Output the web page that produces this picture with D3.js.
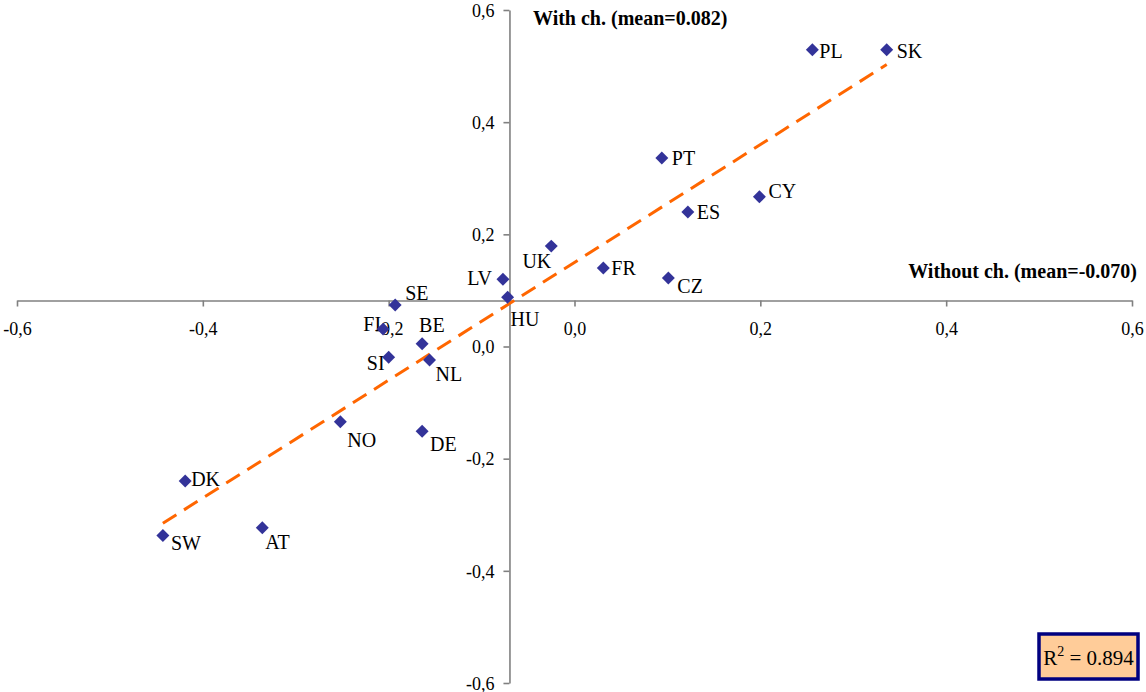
<!DOCTYPE html>
<html>
<head>
<meta charset="utf-8">
<script src="https://cdn.jsdelivr.net/npm/d3@7"></script>
<style>
  html, body { margin: 0; padding: 0; background: #fff; }
  svg { display: block; font-family: "Liberation Serif", "Times New Roman", serif; }
</style>
</head>
<body>
<svg id="chart" width="1146" height="692"></svg>
<script>
// ---- data ----
const countries = ["PL","SK","PT","CY","ES","UK","FR","CZ","LV","HU","SE","FI","BE","SI","NL","NO","DE","DK","AT","SW"];
const withoutCh = [0.256,0.336,0.094,0.199,0.122,-0.025,0.031,0.101,-0.077,-0.072,-0.193,-0.206,-0.164,-0.200,-0.156,-0.252,-0.164,-0.419,-0.336,-0.443];
const withCh    = [0.529,0.529,0.336,0.267,0.240,0.179,0.140,0.122,0.120,0.088,0.074,0.031,0.005,-0.019,-0.024,-0.134,-0.151,-0.240,-0.323,-0.337];
const xTicks = [-0.6,-0.4,-0.2,0.0,0.2,0.4,0.6];
const yTicks = [-0.6,-0.4,-0.2,0.0,0.2,0.4,0.6];
const meanWith = 0.082;
const meanWithout = -0.070;
const trendSlope = 1.05;
const trendIntercept = 0.150;
const rSquared = 0.894;

// ---- label layout (pixel offsets from marker, anchor) ----
const labelLayout = [
  [7,1,"start"],[10,1,"start"],[10,0,"start"],[9,-6,"start"],[9,0,"start"],
  [0,15,"end"],[8,0,"start"],[9,8,"start"],[-11,-1,"end"],[3,22,"start"],
  [10,-12,"start"],[-2,-5,"end"],[-3,-19,"start"],[-4,6,"end"],[6,14,"start"],
  [7,18,"start"],[8,13,"start"],[6,-2,"start"],[3,14,"start"],[8,7,"start"]
];

// ---- chart ----
const svg = d3.select("#chart");
const x = d3.scaleLinear().domain([-0.6, 0.6]).range([17, 1132]);
const y = d3.scaleLinear().domain([-0.6, 0.6]).range([683, 10]);
const fmt = v => d3.format(".1f")(v).replace(".", ",").replace("\u2212", "-");
const axisColor = "#808080";

const xAxis = svg.append("g").attr("transform", `translate(0,${y(meanWith)})`)
  .call(d3.axisBottom(x).tickValues(xTicks).tickFormat(fmt).tickSizeInner(6).tickSizeOuter(0).tickPadding(16));
const yAxis = svg.append("g").attr("transform", `translate(${x(meanWithout)},0)`)
  .call(d3.axisLeft(y).tickValues(yTicks).tickFormat(fmt).tickSizeInner(6).tickSizeOuter(0).tickPadding(9));
[xAxis, yAxis].forEach(g => {
  g.attr("font-family", null).attr("font-size", null);
  g.select(".domain").attr("stroke", axisColor).attr("stroke-width", 1.6);
  g.selectAll(".tick line").attr("stroke", axisColor).attr("stroke-width", 1.6);
  g.selectAll(".tick text").attr("fill", "#000").style("font-size", "18px");
});
yAxis.selectAll(".tick text").attr("dy", "0.35em");

// trend line
const xMin = d3.min(withoutCh), xMax = d3.max(withoutCh);
svg.append("line")
  .attr("x1", x(xMin)).attr("y1", y(trendIntercept + trendSlope * xMin))
  .attr("x2", x(xMax)).attr("y2", y(trendIntercept + trendSlope * xMax))
  .attr("stroke", "#FF6600").attr("stroke-width", 3)
  .attr("stroke-dasharray", "16,9");

const pts = countries.map((c, i) => ({ c, xv: withoutCh[i], yv: withCh[i], L: labelLayout[i] }));

// labels
svg.append("g").selectAll("text").data(pts).join("text")
  .attr("x", d => x(d.xv) + d.L[0])
  .attr("y", d => y(d.yv) + d.L[1])
  .attr("dy", "0.35em")
  .attr("text-anchor", d => d.L[2])
  .style("font-size", "20px")
  .attr("fill", "#000")
  .text(d => d.c);

// markers
const diamond = d3.symbol().type(d3.symbolSquare).size(84);
svg.append("g").selectAll("path").data(pts).join("path")
  .attr("d", diamond)
  .attr("transform", d => `translate(${x(d.xv)},${y(d.yv)}) rotate(45)`)
  .attr("fill", "#333399");

// axis titles
svg.append("text").attr("x", 533).attr("y", 18).attr("dy", "0.35em")
  .style("font-size", "20px").style("font-weight", "bold")
  .text(`With ch. (mean=${meanWith.toFixed(3)})`);
svg.append("text").attr("x", 1137).attr("y", 271).attr("dy", "0.35em")
  .attr("text-anchor", "end")
  .style("font-size", "20px").style("font-weight", "bold")
  .text(`Without ch. (mean=${meanWithout.toFixed(3)})`);

// R² box
const box = svg.append("g").attr("transform", "translate(1039,634)");
box.append("rect").attr("width", 99).attr("height", 45)
  .attr("fill", "#FFCC99").attr("stroke", "#000080").attr("stroke-width", 3.5);
const rt = box.append("text").attr("x", 49.5).attr("y", 31).attr("text-anchor", "middle")
  .style("font-size", "21px");
rt.append("tspan").text("R");
rt.append("tspan").attr("dy", -9).style("font-size", "14px").text("2");
rt.append("tspan").attr("dy", 9).text(" = " + rSquared.toFixed(3));
</script>
</body>
</html>
